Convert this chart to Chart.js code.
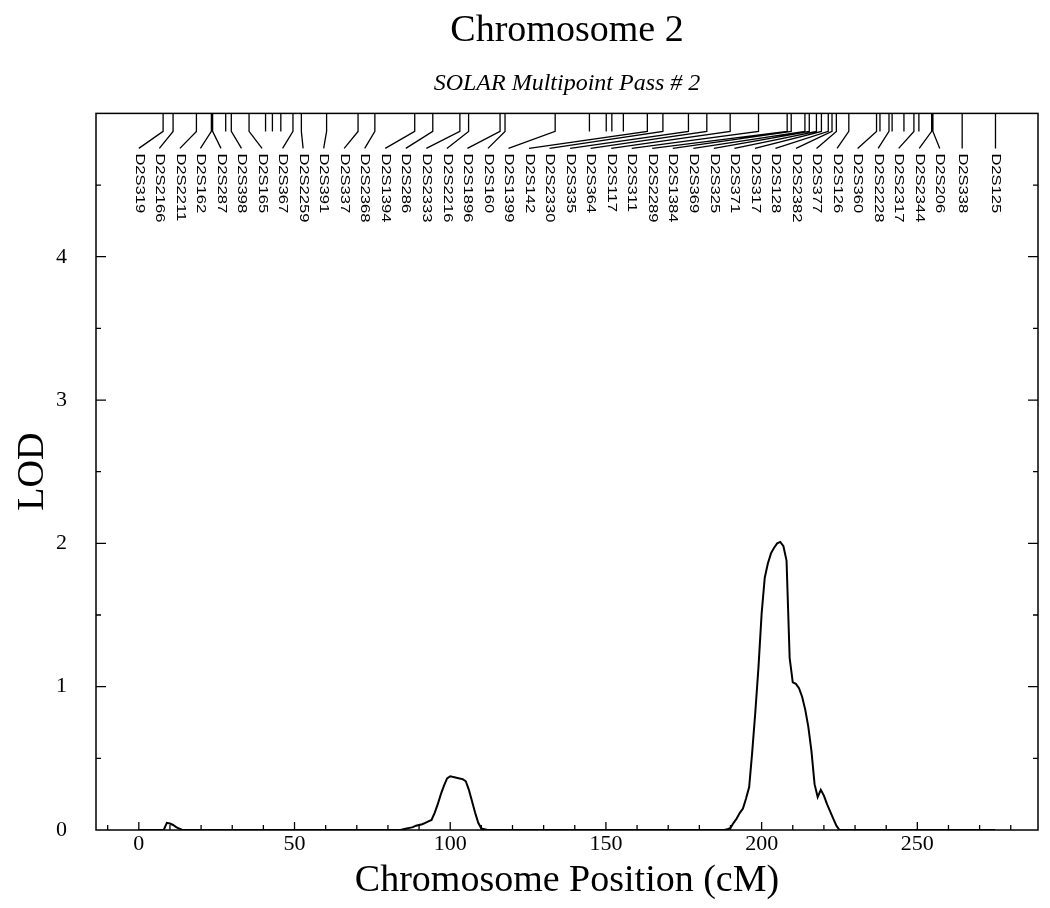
<!DOCTYPE html>
<html>
<head>
<meta charset="utf-8">
<script src="https://cdn.jsdelivr.net/npm/chart.js@4"></script>
<style>
  html, body { margin: 0; padding: 0; background: #fff; }
  #wrap { width: 1050px; height: 908px; }
</style>
</head>
<body>
<div id="wrap"><canvas id="lod"></canvas></div>
<script>
// LOD curve (cM position, LOD score)
const posCM = [0, 8, 9, 10, 11, 12, 13, 14,
  84, 85, 86, 87, 88, 89, 90, 91, 92, 93, 94, 95, 96, 97, 98, 99, 100, 101, 102, 103, 104, 105, 106, 107, 108, 109, 110, 111, 112,
  188, 189, 190, 191, 192, 193, 194, 195, 196, 197, 198, 199, 200, 201, 202, 203, 204, 205, 206, 207, 208, 209, 210,
  211, 212, 213, 214, 215, 216, 217, 218, 219, 220, 221, 222, 223, 224, 225, 275];
const lodValues = [0, 0, 0.05, 0.045, 0.035, 0.02, 0.01, 0,
  0, 0.005, 0.01, 0.015, 0.02, 0.03, 0.035, 0.04, 0.05, 0.06, 0.07, 0.12, 0.18, 0.25, 0.31, 0.36, 0.375, 0.37, 0.365, 0.36, 0.355, 0.34, 0.28, 0.2, 0.12, 0.05, 0.01, 0.005, 0,
  0, 0.005, 0.015, 0.05, 0.08, 0.12, 0.15, 0.22, 0.3, 0.55, 0.83, 1.14, 1.51, 1.76, 1.86, 1.93, 1.97, 2.0, 2.01, 1.98, 1.88, 1.2, 1.03,
  1.02, 0.99, 0.93, 0.84, 0.72, 0.55, 0.32, 0.23, 0.28, 0.24, 0.18, 0.13, 0.08, 0.03, 0, 0];

// marker map along the top
const markerNames = ['D2S319', 'D2S2166', 'D2S2211', 'D2S162', 'D2S287', 'D2S398', 'D2S165', 'D2S367',
  'D2S2259', 'D2S391', 'D2S337', 'D2S2368', 'D2S1394', 'D2S286', 'D2S2333', 'D2S2216', 'D2S1896',
  'D2S160', 'D2S1399', 'D2S142', 'D2S2330', 'D2S335', 'D2S364', 'D2S117', 'D2S311', 'D2S2289',
  'D2S1384', 'D2S369', 'D2S325', 'D2S371', 'D2S317', 'D2S128', 'D2S2382', 'D2S377', 'D2S126',
  'D2S360', 'D2S2228', 'D2S2317', 'D2S2344', 'D2S206', 'D2S338', 'D2S125'];
const markerCM = [7.8, 11.0, 18.5, 23.3, 23.7, 29.7, 35.4, 49.5,
  52.2, 60.3, 70.4, 75.8, 88.6, 94.4, 103.1, 105.9, 116.0,
  117.6, 133.7, 163.3, 168.3, 176.5, 182.4, 189.9, 199.0, 208.2,
  209.5, 213.9, 215.3, 217.6, 219.2, 221.4, 222.6, 224.0, 228.0,
  236.9, 240.9, 248.9, 254.6, 255.0, 264.4, 275.1];
const extraMarkerCM = [27.9, 40.7, 42.9, 45.6, 144.7, 150.1, 151.9, 155.6, 238.0, 241.9, 245.7, 250.5];

const xLabelValues = [0, 50, 100, 150, 200, 250];
const yLabelValues = [0, 1, 2, 3, 4];

// labels are spread evenly until there is room to sit at their own position
const spreadCount = 40;
const spreadStep = 6.595;

const serif = "'Liberation Serif', 'Times New Roman', serif";

const frameAndMarkers = {
  id: 'frameAndMarkers',
  afterDraw(chart) {
    const { ctx, chartArea: a, scales: { x, y } } = chart;
    ctx.save();
    ctx.strokeStyle = '#000';
    ctx.fillStyle = '#000';

    ctx.lineWidth = 1.5;
    ctx.strokeRect(a.left, a.top, a.right - a.left, a.bottom - a.top);

    // inward ticks
    ctx.lineWidth = 1.3;
    ctx.beginPath();
    x.ticks.forEach(t => {
      const px = x.getPixelForValue(t.value);
      const len = t.value % 50 === 0 ? 8 : 5;
      ctx.moveTo(px, a.bottom);
      ctx.lineTo(px, a.bottom - len);
    });
    y.ticks.forEach(t => {
      if (t.value <= 0 || t.value >= 5) return;
      const py = y.getPixelForValue(t.value);
      const len = Number.isInteger(t.value) ? 10 : 5;
      ctx.moveTo(a.left, py);
      ctx.lineTo(a.left + len, py);
      ctx.moveTo(a.right, py);
      ctx.lineTo(a.right - len, py);
    });
    ctx.stroke();

    // marker leaders
    const bendY = a.top + 18;
    const endY = a.top + 35;
    ctx.lineWidth = 1.3;
    ctx.beginPath();
    extraMarkerCM.forEach(cm => {
      const px = x.getPixelForValue(cm);
      ctx.moveTo(px, a.top);
      ctx.lineTo(px, bendY);
    });
    markerNames.forEach((name, i) => {
      const px = x.getPixelForValue(markerCM[i]);
      const sx = x.getPixelForValue(i < spreadCount ? i * spreadStep : markerCM[i]);
      ctx.moveTo(px, a.top);
      ctx.lineTo(px, bendY);
      ctx.lineTo(sx, endY);
    });
    ctx.stroke();

    // marker names, reading downwards
    ctx.font = "12px 'Liberation Sans', Arial, sans-serif";
    ctx.textAlign = 'left';
    ctx.textBaseline = 'middle';
    markerNames.forEach((name, i) => {
      const sx = x.getPixelForValue(i < spreadCount ? i * spreadStep : markerCM[i]);
      ctx.save();
      ctx.translate(sx, a.top + 40);
      ctx.rotate(Math.PI / 2);
      ctx.scale(1.38, 1);
      ctx.fillText(name, 0, 0);
      ctx.restore();
    });
    ctx.restore();
  }
};

const points = posCM.map((p, i) => ({ x: p, y: lodValues[i] }));

new Chart(document.getElementById('lod'), {
  type: 'line',
  data: {
    datasets: [{
      data: points,
      borderColor: '#000',
      borderWidth: 2,
      pointRadius: 0,
      tension: 0,
      fill: false
    }]
  },
  options: {
    responsive: true,
    maintainAspectRatio: false,
    animation: false,
    layout: { padding: { top: 0, right: 12, bottom: 0, left: 0 } },
    plugins: {
      legend: { display: false },
      tooltip: { enabled: false },
      title: {
        display: true,
        text: 'Chromosome 2',
        fullSize: false,
        color: '#000',
        font: { family: serif, size: 38, weight: 'normal' },
        padding: { top: 8, bottom: 16 }
      },
      subtitle: {
        display: true,
        text: 'SOLAR Multipoint Pass # 2',
        fullSize: false,
        color: '#000',
        font: { family: serif, size: 24, style: 'italic', weight: 'normal' },
        padding: { top: 0, bottom: 15 }
      }
    },
    scales: {
      x: {
        type: 'linear',
        min: -13.75,
        max: 288.75,
        grid: { display: false },
        border: { display: false },
        afterFit: s => { s.height = 78; },
        ticks: {
          stepSize: 10,
          includeBounds: false,
          autoSkip: false,
          maxRotation: 0,
          padding: -7,
          color: '#000',
          font: { family: serif, size: 22 },
          callback: v => xLabelValues.includes(v) ? v : ''
        },
        title: {
          display: true,
          text: 'Chromosome Position (cM)',
          color: '#000',
          font: { family: serif, size: 38 },
          padding: { top: 0, bottom: 4 }
        }
      },
      y: {
        min: 0,
        max: 5,
        grid: { display: false },
        border: { display: false },
        afterFit: s => { s.width = 96; },
        ticks: {
          stepSize: 0.5,
          autoSkip: false,
          padding: 21,
          color: '#000',
          font: { family: serif, size: 22 },
          callback: v => yLabelValues.includes(v) ? v : ''
        },
        title: {
          display: true,
          text: 'LOD',
          color: '#000',
          font: { family: serif, size: 38 },
          padding: { top: 10, bottom: 0 }
        }
      }
    }
  },
  plugins: [frameAndMarkers]
});
</script>
</body>
</html>
